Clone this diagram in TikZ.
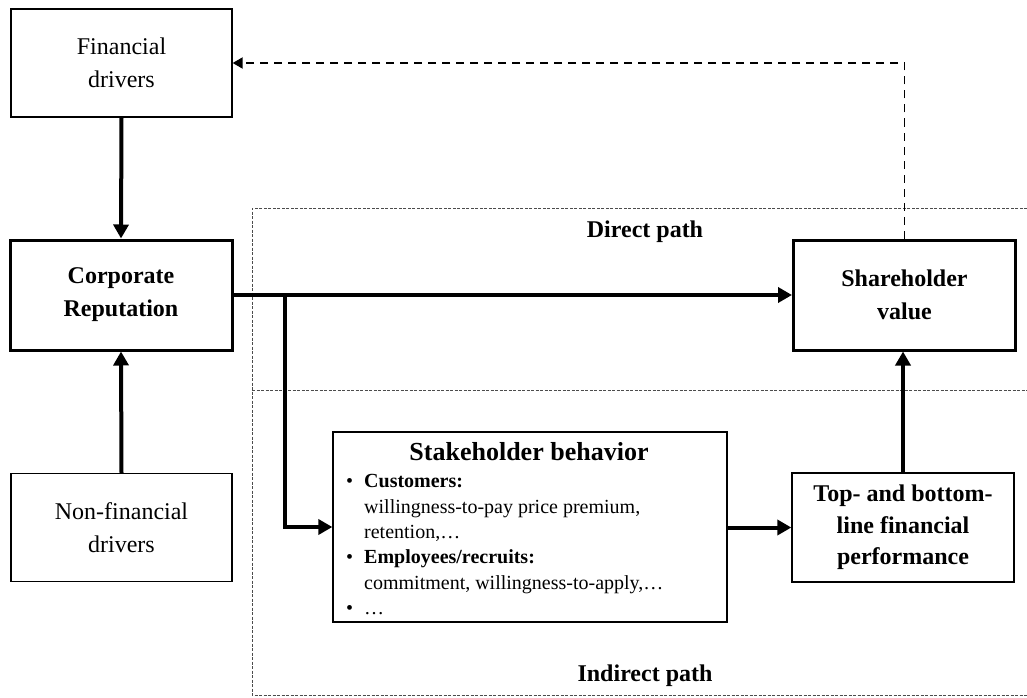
\documentclass[tikz,border=0pt]{standalone}
\usepackage{fontspec}
\setmainfont{Liberation Serif}
\usetikzlibrary{arrows.meta}
\begin{document}
\begin{tikzpicture}[x=1pt,y=-1pt,
  thinbox/.style={draw, line width=1.3pt, minimum width=221pt, minimum height=108pt, align=center, inner sep=0pt, font=\fontsize{24}{33}\selectfont},
  thickbox/.style={draw, line width=3pt, minimum width=222pt, minimum height=110pt, align=center, inner sep=0pt, font=\fontsize{24}{33}\selectfont\bfseries},
  flow/.style={line width=4pt, -{Triangle[length=14pt,width=15pt]}},
  feedback/.style={line width=1.8pt, dash pattern=on 8pt off 6pt, -{Triangle[length=10pt,width=11pt]}},
  region/.style={line width=1pt, dash pattern=on 3pt off 1.5pt, draw=black!70},
  lbl/.style={font=\fontsize{24}{28}\selectfont\bfseries, inner sep=0pt}
]
\useasboundingbox (0,0) rectangle (1027,698);

% dashed regions
\draw[region] (1027,208) -- (252,208) -- (252,695) -- (1027,695);
\draw[region] (252,390) -- (1027,390);
\node[lbl] (direct) at (645,232) {Direct path};
\node[lbl] (indirect) at (645,676) {Indirect path};

% boxes
\node[thinbox] (fin) at (121.5,63) {Financial\\drivers};
\node[thickbox] (corp) at (121,295) {Corporate\\Reputation};
\node[thinbox] (nonfin) at (121.5,527.5) {Non-financial\\drivers};
\node[thickbox] (share) at (904.5,295) {Shareholder\\value};
\node[thinbox, minimum width=222pt, minimum height=109pt] (perf) at (903,527.5) {\bfseries Top- and bottom-\\[-1.5pt]\bfseries line financial\\[-1.5pt]\bfseries performance};

\node[draw, line width=1.3pt, minimum width=394pt, minimum height=190pt, inner sep=0pt] (sb) at (530,527) {};
\node[anchor=north, inner sep=0pt, font=\fontsize{26}{28}\selectfont\bfseries] (sbt) at (529,442) {Stakeholder behavior};
\node[anchor=north west, inner sep=0pt, align=left, font=\fontsize{20}{25.3}\selectfont] (sbl) at (346,470) {%
\begin{tabular}{@{}l@{\hspace{11pt}}l@{}}
\textbullet & \textbf{Customers:}\\
 & willingness-to-pay price premium,\\
 & retention,\ldots\\
\textbullet & \textbf{Employees/recruits:}\\
 & commitment, willingness-to-apply,\ldots\\
\textbullet & \ldots
\end{tabular}};

% connectors
\coordinate (branch) at (285,295);
\draw[flow] (fin.south) -- (corp.north);
\draw[flow] (nonfin.north) -- (corp.south);
\draw[flow] (corp.east) -- (share.west);
\draw[flow] (branch) |- (sb.west);
\draw[flow] (sb.east |- perf.west) -- (perf.west);
\draw[flow] (perf.north) -- (share.south -| perf.north);
\draw[feedback] (share.north) |- (fin.east);
\end{tikzpicture}
\end{document}
